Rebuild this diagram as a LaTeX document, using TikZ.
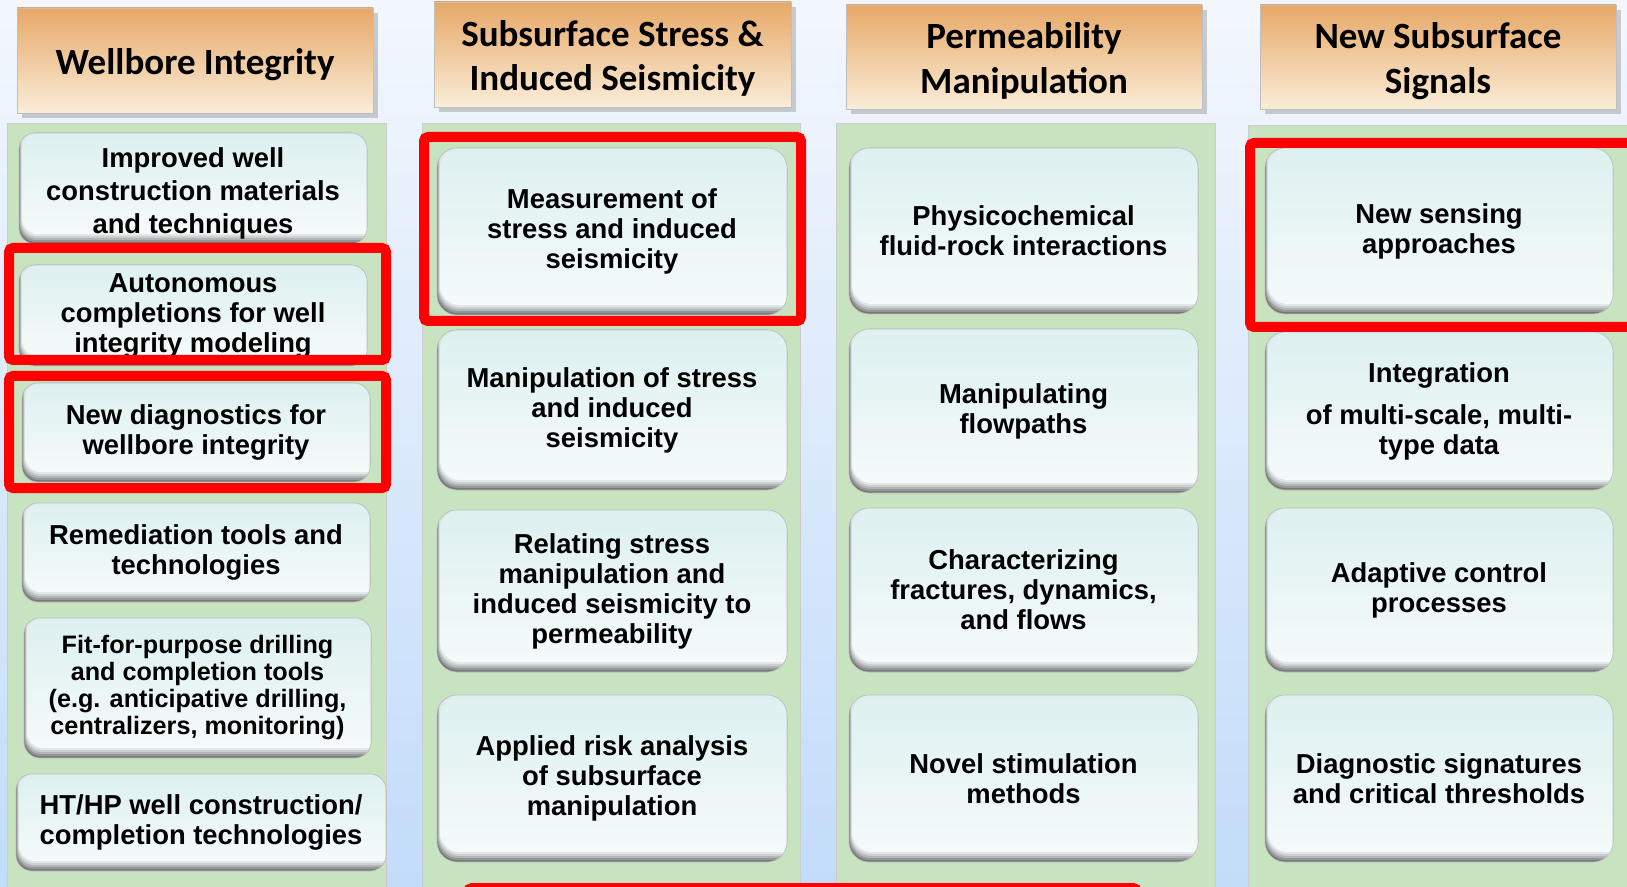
\documentclass[tikz,border=0pt]{standalone}
\usepackage{fontspec}
\setmainfont{Liberation Sans}
\newfontfamily\hdfont{Carlito}
\usetikzlibrary{shadows}
\definecolor{bgT}{HTML}{F3F7FD}
\definecolor{bgB}{HTML}{C2DCFA}
\definecolor{panel}{HTML}{C8E3C0}
\definecolor{cellT}{HTML}{DDF0F0}
\definecolor{cellB}{HTML}{F5FAFA}
\definecolor{hdT}{HTML}{E7A867}
\definecolor{hdM}{HTML}{EEBD88}
\definecolor{hdB}{HTML}{FAEDD8}
\tikzset{
  bev/.style 2 args={fill=#2, rounded corners=#1},
  cell/.style={rounded corners=#1, draw=black!25, line width=0.3pt,
    fill=cellB!48!black, align=center, inner sep=0pt,
    font=\bfseries\fontsize{13.7}{15}\selectfont,
    path picture={
      \fill[bev={#1}{cellB!60!black}] ([shift={(0.3pt,1pt)}]path picture bounding box.south west) rectangle ([shift={(20pt,20pt)}]path picture bounding box.north east);
      \fill[bev={#1}{cellB!72!black}] ([shift={(0.6pt,2pt)}]path picture bounding box.south west) rectangle ([shift={(20pt,20pt)}]path picture bounding box.north east);
      \fill[bev={#1}{cellB!83!black}] ([shift={(0.9pt,3pt)}]path picture bounding box.south west) rectangle ([shift={(20pt,20pt)}]path picture bounding box.north east);
      \fill[bev={#1}{cellB!92!black}] ([shift={(1.2pt,4pt)}]path picture bounding box.south west) rectangle ([shift={(20pt,20pt)}]path picture bounding box.north east);
      \shade[rounded corners=#1, top color=cellT, bottom color=cellB] ([shift={(1.5pt,5pt)}]path picture bounding box.south west) rectangle ([shift={(20pt,0pt)}]path picture bounding box.north east);
    }},
  cell/.default=10pt,
  hdr/.style={draw=black!25, line width=0.4pt, top color=hdT, middle color=hdM, bottom color=hdB,
    align=center, inner sep=0pt,
    font=\hdfont\bfseries\fontsize{18.5}{22.3}\selectfont,
    drop shadow={shadow xshift=2.5pt, shadow yshift=-2.5pt, fill=black!60, opacity=0.3}},
  pnl/.style={fill=panel, draw=black!20, line width=0.4pt},
  hilite/.style={draw=red, line width=5pt, rounded corners=2pt},
}
% [options]{name}{x1}{y1}{x2}{y2}{text}
\newcommand\cellbox[7][cell]{%
  \pgfmathsetmacro\cbw{(#5-#3)*0.5}%
  \pgfmathsetmacro\cbh{(#6-#4)*0.5}%
  \node[#1, minimum width=\cbw pt, minimum height=\cbh pt] (#2) at ({(#3+#5)/2},{(#4+#6)/2}) {#7};%
}
\newcommand\hdrbox[6]{%
  \pgfmathsetmacro\cbw{(#4-#2)*0.5}%
  \pgfmathsetmacro\cbh{(#5-#3)*0.5}%
  \node[hdr, minimum width=\cbw pt, minimum height=\cbh pt] (#1) at ({(#2+#4)/2},{(#3+#5)/2}) {\raisebox{-2.5pt}[\height][\depth]{\begin{tabular}{@{}c@{}}#6\end{tabular}}};%
}
\begin{document}
\begin{tikzpicture}[x=0.5pt, y=-0.5pt]
\useasboundingbox (0,0) rectangle (1627,887);
\clip (0,0) rectangle (1627,887);
\shade[top color=bgT, bottom color=bgB] (0,0) rectangle (1627,887);

% panels
\path[pnl] (7,123) rectangle (386,900);
\path[pnl] (422,123) rectangle (800,900);
\path[pnl] (836,123) rectangle (1215,900);
\path[pnl] (1248,125) rectangle (1640,900);

% headers
\hdrbox{h1}{17}{8}{373}{113}{Wellbore Integrity}
\hdrbox{h2}{434}{2}{791}{107}{Subsurface Stress \&\\Induced Seismicity}
\hdrbox{h3}{846}{5}{1202}{109}{Permeability\\Manipulation}
\hdrbox{h4}{1260}{5}{1616}{109}{New Subsurface\\Signals}

% column 1
\cellbox[cell=8pt, font=\bfseries\fontsize{13.7}{16.5}\selectfont]{a1}{19}{133}{367}{244}{\raisebox{-2.5pt}[\height][\depth]{\begin{tabular}{@{}c@{}}Improved well\\construction materials\\and techniques\end{tabular}}}
\cellbox[cell=8pt]{a2}{19}{265}{367}{366}{Autonomous\\completions for well\\integrity modeling}
\cellbox[cell=8pt]{a3}{22}{383}{370}{482}{New diagnostics for\\wellbore integrity}
\cellbox[cell=8pt]{a4}{22}{503}{370}{602}{Remediation tools and\\technologies}
\cellbox[cell=8pt, font=\bfseries\fontsize{12.6}{13.5}\selectfont]{a5}{24}{618}{371}{758}{Fit-for-purpose drilling\\and completion tools\\(e.g. anticipative drilling,\\centralizers, monitoring)}
\cellbox[cell=8pt]{a6}{16}{774}{386}{871}{HT/HP well construction/\\completion technologies}

% column 2
\cellbox{b1}{437}{148}{787}{315}{Measurement of\\stress and induced\\seismicity}
\cellbox{b2}{437}{330}{787}{490}{Manipulation of stress\\and induced\\seismicity}
\cellbox{b3}{437}{510}{787}{672}{Relating stress\\manipulation and\\induced seismicity to\\permeability}
\cellbox{b4}{437}{695}{787}{862}{Applied risk analysis\\of subsurface\\manipulation}

% column 3
\cellbox{c1}{849}{148}{1198}{314}{Physicochemical\\fluid-rock interactions}
\cellbox{c2}{849}{329}{1198}{493}{Manipulating\\flowpaths}
\cellbox{c3}{849}{508}{1198}{672}{Characterizing\\fractures, dynamics,\\and flows}
\cellbox{c4}{849}{695}{1198}{862}{Novel stimulation\\methods}

% column 4
\cellbox{d1}{1265}{148}{1613}{314}{New sensing\\approaches}
\cellbox{d2}{1265}{332}{1613}{490}{Integration\\[6pt]of multi-scale, multi-\\type data}
\cellbox{d3}{1265}{508}{1613}{672}{Adaptive control\\processes}
\cellbox{d4}{1265}{695}{1613}{862}{Diagnostic signatures\\and critical thresholds}

% highlight frames
\draw[hilite] (9,248) rectangle (386,360);
\draw[hilite] (9,376) rectangle (386,488);
\draw[hilite] (424,137) rectangle (801,321);
\draw[hilite] (1250,143) rectangle (1645,327);
\draw[hilite] (468,888) rectangle (1137,950);
\end{tikzpicture}
\end{document}
